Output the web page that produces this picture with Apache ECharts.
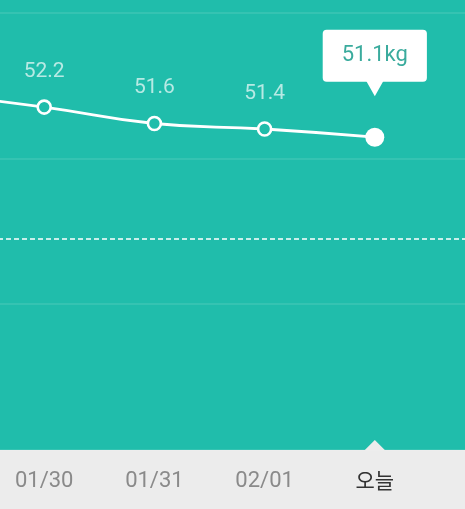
<!DOCTYPE html>
<html>
<head>
<meta charset="utf-8">
<script src="https://cdn.jsdelivr.net/npm/echarts@6/dist/echarts.min.js"></script>
<style>html,body{margin:0;padding:0;}#c{width:465px;height:509px;}</style>
</head>
<body>
<div id="c"></div>
<script>
const categories = ['01/29', '01/30', '01/31', '02/01', '오늘', ''];
const weights = [52.7, 52.2, 51.6, 51.4, 51.1, null];
const targetLine = 47.4;
const yMin = 39.66, yMax = 55.66, yStep = 16 / 3;
const unit = 'kg';

const TEAL = '#20bdab';
const GRAY = '#ececec';
const lastIdx = 4;

const seriesData = weights.map((v, i) => {
  if (v === null) return '-';
  if (i === lastIdx) {
    return {
      value: v,
      symbolSize: 19,
      itemStyle: { color: '#ffffff', borderColor: '#ffffff', borderWidth: 0 },
      label: {
        show: true, position: 'top', distance: 46,
        formatter: p => p.value + unit,
        color: '#3aab9d', fontSize: 22,
        fontFamily: 'Roboto, "Noto Sans", sans-serif',
        backgroundColor: '#ffffff', borderRadius: 4,
        padding: [13, 19, 13, 19], lineHeight: 26
      }
    };
  }
  return { value: v };
});

const chart = echarts.init(document.getElementById('c'), null, { renderer: 'canvas' });
chart.setOption({
  backgroundColor: TEAL,
  animation: false,
  graphic: [{
    type: 'rect', left: 0, top: 450, z: -1,
    shape: { width: 465, height: 59 },
    style: { fill: GRAY }
  }],
  grid: { left: -66, right: -20, top: 12.5, bottom: 59, containLabel: false, outerBoundsMode: 'none' },
  xAxis: {
    type: 'category', data: categories, boundaryGap: false,
    axisLine: { show: false }, axisTick: { show: false },
    splitLine: { show: false },
    axisLabel: {
      margin: 20, fontSize: 22, color: '#8a8a8a',
      fontFamily: 'Roboto, "Noto Sans CJK KR", sans-serif',
      formatter: v => v === '오늘' ? '{t|' + v + '}' : v,
      rich: { t: { color: '#333333', fontSize: 21, fontFamily: '"Noto Sans CJK KR", sans-serif' } }
    }
  },
  yAxis: {
    type: 'value', min: yMin, max: yMax, interval: yStep,
    axisLine: { show: false }, axisTick: { show: false }, axisLabel: { show: false },
    splitLine: { lineStyle: { color: 'rgba(255,255,255,0.13)', width: 1.5 } }
  },
  series: [{
    type: 'line',
    data: seriesData,
    smooth: 0.5,
    symbol: 'circle', symbolSize: 13,
    showAllSymbol: true,
    lineStyle: { color: '#ffffff', width: 2.8 },
    itemStyle: { color: TEAL, borderColor: '#ffffff', borderWidth: 2.6 },
    label: {
      show: true, position: 'top', distance: 17,
      color: 'rgba(255,255,255,0.68)', fontSize: 21,
      fontFamily: 'Roboto, "Noto Sans", sans-serif'
    },
    markLine: {
      silent: true, symbol: 'none', label: { show: false },
      lineStyle: { color: '#ffffff', type: [5, 3], width: 1.5 },
      data: [{ yAxis: targetLine }]
    },
    markPoint: {
      silent: true, label: { show: false },
      data: [
        { coord: ['오늘', 51.1], symbol: 'triangle', symbolRotate: 180, symbolSize: [18, 16], symbolOffset: [0, -49], itemStyle: { color: '#ffffff' } },
        { coord: ['오늘', yMin], symbol: 'triangle', symbolSize: [20, 10], symbolOffset: [0, -5], itemStyle: { color: GRAY } }
      ]
    }
  }]
});
</script>
</body>
</html>
